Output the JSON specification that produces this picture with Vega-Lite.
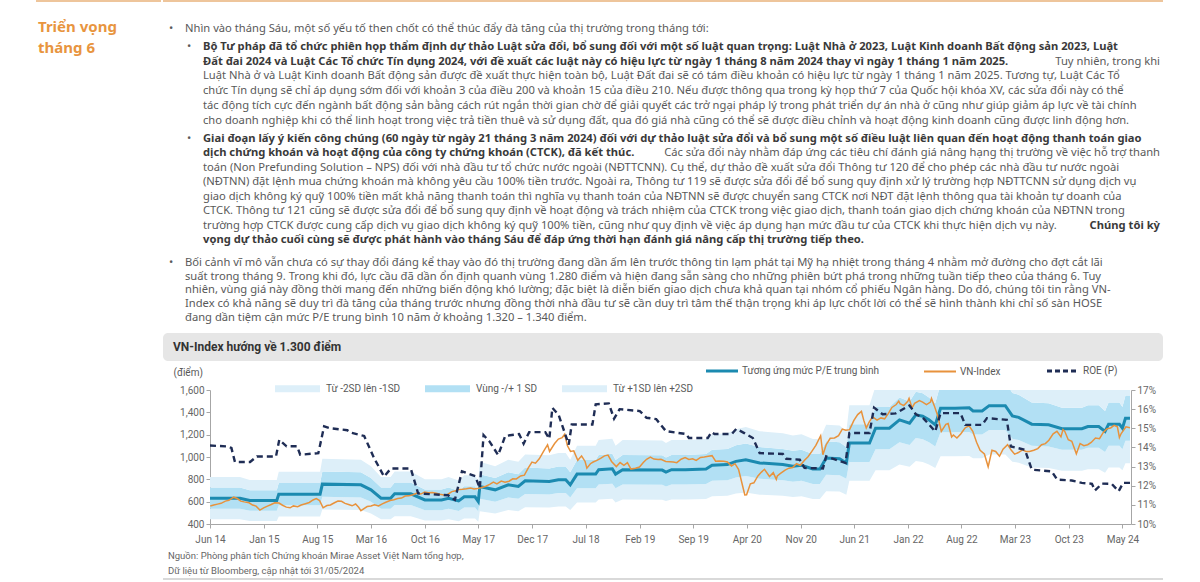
{
"$schema": "https://vega.github.io/schema/vega-lite/v6.json",
"background": "white",
"padding": {"left": 35, "top": 0, "right": 0, "bottom": 0},
"spacing": 0,
"resolve": {"legend": {"fill": "independent", "stroke": "independent"}},
"config": {
  "view": {"stroke": null},
  "concat": {"spacing": 0},
  "axis": {"labelFont": "Roboto", "labelFontSize": 10, "labelColor": "#666666", "tickColor": "#A6A6A6", "domainColor": "#A6A6A6", "tickSize": 4, "grid": false, "labelOverlap": false},
  "legend": {"labelFont": "Roboto", "labelFontSize": 10, "labelColor": "#595959", "labelOffset": 6, "padding": 0, "labelLimit": 220}
},
"datasets": {
  "heading": [{"line": 0, "text": "Triển vọng"}, {"line": 1, "text": "tháng 6"}],
  "text": [
    {"para": 0, "line": 0, "level": 1, "role": "bullet", "weight": "normal", "text": "•"},
    {"para": 0, "line": 0, "level": 1, "role": "start", "weight": "normal", "text": "Nhìn vào tháng Sáu, một số yếu tố then chốt có thể thúc đẩy đà tăng của thị trường trong tháng tới:"},
    {"para": 1, "line": 0, "level": 2, "role": "bullet", "weight": "normal", "text": "•"},
    {"para": 1, "line": 0, "level": 2, "role": "start", "weight": "bold", "text": "Bộ Tư pháp đã tổ chức phiên họp thẩm định dự thảo Luật sửa đổi, bổ sung đối với một số luật quan trọng: Luật Nhà ở 2023, Luật Kinh doanh Bất động sản 2023, Luật"},
    {"para": 1, "line": 1, "level": 2, "role": "start", "weight": "bold", "text": "Đất đai 2024 và Luật Các Tổ chức Tín dụng 2024, với đề xuất các luật này có hiệu lực từ ngày 1 tháng 8 năm 2024 thay vì ngày 1 tháng 1 năm 2025."},
    {"para": 1, "line": 1, "level": 2, "role": "end", "weight": "normal", "text": "Tuy nhiên, trong khi"},
    {"para": 1, "line": 2, "level": 2, "role": "start", "weight": "normal", "text": "Luật Nhà ở và Luật Kinh doanh Bất động sản được đề xuất thực hiện toàn bộ, Luật Đất đai sẽ có tám điều khoản có hiệu lực từ ngày 1 tháng 1 năm 2025. Tương tự, Luật Các Tổ"},
    {"para": 1, "line": 3, "level": 2, "role": "start", "weight": "normal", "text": "chức Tín dụng sẽ chỉ áp dụng sớm đối với khoản 3 của điều 200 và khoản 15 của điều 210. Nếu được thông qua trong kỳ họp thứ 7 của Quốc hội khóa XV, các sửa đổi này có thể"},
    {"para": 1, "line": 4, "level": 2, "role": "start", "weight": "normal", "text": "tác động tích cực đến ngành bất động sản bằng cách rút ngắn thời gian chờ để giải quyết các trở ngại pháp lý trong phát triển dự án nhà ở cũng như giúp giảm áp lực về tài chính"},
    {"para": 1, "line": 5, "level": 2, "role": "start", "weight": "normal", "text": "cho doanh nghiệp khi có thể linh hoạt trong việc trả tiền thuê và sử dụng đất, qua đó giá nhà cũng có thể sẽ được điều chỉnh và hoạt động kinh doanh cũng được linh động hơn."},
    {"para": 2, "line": 0, "level": 2, "role": "bullet", "weight": "normal", "text": "•"},
    {"para": 2, "line": 0, "level": 2, "role": "start", "weight": "bold", "text": "Giai đoạn lấy ý kiến công chúng (60 ngày từ ngày 21 tháng 3 năm 2024) đối với dự thảo luật sửa đổi và bổ sung một số điều luật liên quan đến hoạt động thanh toán giao"},
    {"para": 2, "line": 1, "level": 2, "role": "start", "weight": "bold", "text": "dịch chứng khoán và hoạt động của công ty chứng khoán (CTCK), đã kết thúc."},
    {"para": 2, "line": 1, "level": 2, "role": "end", "weight": "normal", "text": "Các sửa đổi này nhằm đáp ứng các tiêu chí đánh giá nâng hạng thị trường về việc hỗ trợ thanh"},
    {"para": 2, "line": 2, "level": 2, "role": "start", "weight": "normal", "text": "toán (Non Prefunding Solution – NPS) đối với nhà đầu tư tổ chức nước ngoài (NĐTTCNN). Cụ thể, dự thảo đề xuất sửa đổi Thông tư 120 để cho phép các nhà đầu tư nước ngoài"},
    {"para": 2, "line": 3, "level": 2, "role": "start", "weight": "normal", "text": "(NĐTNN) đặt lệnh mua chứng khoán mà không yêu cầu 100% tiền trước. Ngoài ra, Thông tư 119 sẽ được sửa đổi để bổ sung quy định xử lý trường hợp NĐTTCNN sử dụng dịch vụ"},
    {"para": 2, "line": 4, "level": 2, "role": "start", "weight": "normal", "text": "giao dịch không ký quỹ 100% tiền mất khả năng thanh toán thì nghĩa vụ thanh toán của NĐTNN sẽ được chuyển sang CTCK nơi NĐT đặt lệnh thông qua tài khoản tự doanh của"},
    {"para": 2, "line": 5, "level": 2, "role": "start", "weight": "normal", "text": "CTCK. Thông tư 121 cũng sẽ được sửa đổi để bổ sung quy định về hoạt động và trách nhiệm của CTCK trong việc giao dịch, thanh toán giao dịch chứng khoán của NĐTNN trong"},
    {"para": 2, "line": 6, "level": 2, "role": "start", "weight": "normal", "text": "trường hợp CTCK được cung cấp dịch vụ giao dịch không ký quỹ 100% tiền, cũng như quy định về việc áp dụng hạn mức đầu tư của CTCK khi thực hiện dịch vụ này."},
    {"para": 2, "line": 6, "level": 2, "role": "end", "weight": "bold", "text": "Chúng tôi kỳ"},
    {"para": 2, "line": 7, "level": 2, "role": "start", "weight": "bold", "text": "vọng dự thảo cuối cùng sẽ được phát hành vào tháng Sáu để đáp ứng thời hạn đánh giá nâng cấp thị trường tiếp theo."},
    {"para": 3, "line": 0, "level": 1, "role": "bullet", "weight": "normal", "text": "•"},
    {"para": 3, "line": 0, "level": 1, "role": "start", "weight": "normal", "text": "Bối cảnh vĩ mô vẫn chưa có sự thay đổi đáng kể thay vào đó thị trường đang dần ấm lên trước thông tin lạm phát tại Mỹ hạ nhiệt trong tháng 4 nhằm mở đường cho đợt cắt lãi"},
    {"para": 3, "line": 1, "level": 1, "role": "start", "weight": "normal", "text": "suất trong tháng 9. Trong khi đó, lực cầu đã dần ổn định quanh vùng 1.280 điểm và hiện đang sẵn sàng cho những phiên bứt phá trong những tuần tiếp theo của tháng 6. Tuy"},
    {"para": 3, "line": 2, "level": 1, "role": "start", "weight": "normal", "text": "nhiên, vùng giá này đồng thời mang đến những biến động khó lường; đặc biệt là diễn biến giao dịch chưa khả quan tại nhóm cổ phiếu Ngân hàng. Do đó, chúng tôi tin rằng VN-"},
    {"para": 3, "line": 3, "level": 1, "role": "start", "weight": "normal", "text": "Index có khả năng sẽ duy trì đà tăng của tháng trước nhưng đồng thời nhà đầu tư sẽ cần duy trì tâm thế thận trọng khi áp lực chốt lời có thể sẽ hình thành khi chỉ số sàn HOSE"},
    {"para": 3, "line": 4, "level": 1, "role": "start", "weight": "normal", "text": "đang dần tiệm cận mức P/E trung bình 10 năm ở khoảng 1.320 – 1.340 điểm."}
  ],
  "footer": [
    {"line": 0, "text": "Nguồn: Phòng phân tích Chứng khoán Mirae Asset Việt Nam tổng hợp,"},
    {"line": 1, "text": "Dữ liệu từ Bloomberg, cập nhật tới 31/05/2024"}
  ],
  "pe": [
    {"d":"2014-06-01","mean":631,"lo2":442,"lo1":536,"hi1":726,"hi2":820},
    {"d":"2014-09-28","mean":631,"lo2":442,"lo1":536,"hi1":726,"hi2":820},
    {"d":"2014-11-06","mean":610,"lo2":427,"lo1":519,"hi1":702,"hi2":793},
    {"d":"2015-02-21","mean":610,"lo2":427,"lo1":519,"hi1":702,"hi2":793},
    {"d":"2015-03-01","mean":667,"lo2":467,"lo1":567,"hi1":767,"hi2":867},
    {"d":"2015-08-12","mean":667,"lo2":467,"lo1":567,"hi1":767,"hi2":867},
    {"d":"2015-08-21","mean":757,"lo2":530,"lo1":643,"hi1":871,"hi2":984},
    {"d":"2016-01-21","mean":751,"lo2":526,"lo1":638,"hi1":864,"hi2":976},
    {"d":"2016-03-01","mean":706,"lo2":494,"lo1":600,"hi1":812,"hi2":918},
    {"d":"2016-04-10","mean":631,"lo2":442,"lo1":536,"hi1":726,"hi2":820},
    {"d":"2016-05-18","mean":631,"lo2":442,"lo1":536,"hi1":726,"hi2":820},
    {"d":"2016-06-03","mean":670,"lo2":469,"lo1":570,"hi1":771,"hi2":871},
    {"d":"2016-08-06","mean":670,"lo2":469,"lo1":570,"hi1":771,"hi2":871},
    {"d":"2016-10-01","mean":616,"lo2":431,"lo1":524,"hi1":708,"hi2":801},
    {"d":"2016-12-06","mean":616,"lo2":431,"lo1":524,"hi1":708,"hi2":801},
    {"d":"2017-01-03","mean":631,"lo2":442,"lo1":536,"hi1":726,"hi2":820},
    {"d":"2017-02-12","mean":607,"lo2":425,"lo1":516,"hi1":698,"hi2":789},
    {"d":"2017-03-06","mean":643,"lo2":450,"lo1":547,"hi1":739,"hi2":836},
    {"d":"2017-04-18","mean":643,"lo2":450,"lo1":547,"hi1":739,"hi2":836},
    {"d":"2017-05-01","mean":601,"lo2":421,"lo1":511,"hi1":691,"hi2":781},
    {"d":"2017-05-07","mean":736,"lo2":515,"lo1":626,"hi1":846,"hi2":957},
    {"d":"2017-07-07","mean":706,"lo2":494,"lo1":600,"hi1":812,"hi2":918},
    {"d":"2017-08-28","mean":751,"lo2":526,"lo1":638,"hi1":864,"hi2":976},
    {"d":"2017-10-07","mean":736,"lo2":515,"lo1":626,"hi1":846,"hi2":957},
    {"d":"2017-11-03","mean":787,"lo2":551,"lo1":669,"hi1":905,"hi2":1023},
    {"d":"2018-02-07","mean":781,"lo2":547,"lo1":664,"hi1":898,"hi2":1015},
    {"d":"2018-03-15","mean":796,"lo2":557,"lo1":677,"hi1":915,"hi2":1035},
    {"d":"2018-04-13","mean":796,"lo2":557,"lo1":677,"hi1":915,"hi2":1035},
    {"d":"2018-05-01","mean":751,"lo2":526,"lo1":638,"hi1":864,"hi2":976},
    {"d":"2018-05-28","mean":847,"lo2":593,"lo1":720,"hi1":974,"hi2":1101},
    {"d":"2018-08-10","mean":847,"lo2":593,"lo1":720,"hi1":974,"hi2":1101},
    {"d":"2018-08-22","mean":886,"lo2":620,"lo1":753,"hi1":1019,"hi2":1152},
    {"d":"2018-10-15","mean":895,"lo2":627,"lo1":761,"hi1":1029,"hi2":1164},
    {"d":"2018-10-28","mean":847,"lo2":593,"lo1":720,"hi1":974,"hi2":1101},
    {"d":"2018-11-25","mean":886,"lo2":620,"lo1":753,"hi1":1019,"hi2":1152},
    {"d":"2019-05-01","mean":883,"lo2":618,"lo1":751,"hi1":1015,"hi2":1148},
    {"d":"2019-05-16","mean":865,"lo2":606,"lo1":735,"hi1":995,"hi2":1125},
    {"d":"2019-06-07","mean":886,"lo2":620,"lo1":753,"hi1":1019,"hi2":1152},
    {"d":"2019-08-01","mean":886,"lo2":620,"lo1":753,"hi1":1019,"hi2":1152},
    {"d":"2019-10-22","mean":893,"lo2":625,"lo1":759,"hi1":1027,"hi2":1161},
    {"d":"2019-11-15","mean":926,"lo2":648,"lo1":787,"hi1":1065,"hi2":1204},
    {"d":"2020-01-15","mean":932,"lo2":652,"lo1":792,"hi1":1072,"hi2":1212},
    {"d":"2020-02-18","mean":961,"lo2":673,"lo1":817,"hi1":1105,"hi2":1249},
    {"d":"2020-03-28","mean":976,"lo2":683,"lo1":830,"hi1":1122,"hi2":1269},
    {"d":"2020-05-22","mean":947,"lo2":663,"lo1":805,"hi1":1089,"hi2":1231},
    {"d":"2020-08-22","mean":932,"lo2":652,"lo1":792,"hi1":1072,"hi2":1212},
    {"d":"2020-10-01","mean":917,"lo2":642,"lo1":779,"hi1":1055,"hi2":1192},
    {"d":"2020-11-04","mean":926,"lo2":648,"lo1":787,"hi1":1065,"hi2":1204},
    {"d":"2020-12-19","mean":893,"lo2":625,"lo1":759,"hi1":1027,"hi2":1161},
    {"d":"2021-01-16","mean":893,"lo2":625,"lo1":759,"hi1":1027,"hi2":1161},
    {"d":"2021-02-10","mean":991,"lo2":694,"lo1":842,"hi1":1140,"hi2":1288},
    {"d":"2021-04-04","mean":985,"lo2":690,"lo1":837,"hi1":1133,"hi2":1281},
    {"d":"2021-05-01","mean":947,"lo2":663,"lo1":805,"hi1":1089,"hi2":1231},
    {"d":"2021-05-13","mean":1125,"lo2":788,"lo1":956,"hi1":1294,"hi2":1463},
    {"d":"2021-08-01","mean":1125,"lo2":788,"lo1":956,"hi1":1294,"hi2":1463},
    {"d":"2021-08-25","mean":1258,"lo2":881,"lo1":1069,"hi1":1447,"hi2":1635},
    {"d":"2021-10-19","mean":1258,"lo2":881,"lo1":1069,"hi1":1447,"hi2":1635},
    {"d":"2021-11-28","mean":1333,"lo2":933,"lo1":1133,"hi1":1533,"hi2":1733},
    {"d":"2022-01-07","mean":1303,"lo2":912,"lo1":1108,"hi1":1498,"hi2":1694},
    {"d":"2022-02-01","mean":1377,"lo2":964,"lo1":1170,"hi1":1584,"hi2":1790},
    {"d":"2022-02-28","mean":1365,"lo2":956,"lo1":1160,"hi1":1570,"hi2":1775},
    {"d":"2022-03-25","mean":1333,"lo2":933,"lo1":1133,"hi1":1533,"hi2":1733},
    {"d":"2022-04-19","mean":1288,"lo2":902,"lo1":1095,"hi1":1481,"hi2":1674},
    {"d":"2022-05-10","mean":1437,"lo2":1006,"lo1":1221,"hi1":1653,"hi2":1868},
    {"d":"2022-07-07","mean":1437,"lo2":1006,"lo1":1221,"hi1":1653,"hi2":1868},
    {"d":"2022-09-01","mean":1440,"lo2":1008,"lo1":1224,"hi1":1656,"hi2":1872},
    {"d":"2022-09-16","mean":1413,"lo2":989,"lo1":1201,"hi1":1625,"hi2":1837},
    {"d":"2022-10-22","mean":1413,"lo2":989,"lo1":1201,"hi1":1625,"hi2":1837},
    {"d":"2022-11-19","mean":1460,"lo2":1022,"lo1":1241,"hi1":1679,"hi2":1898},
    {"d":"2023-01-22","mean":1460,"lo2":1022,"lo1":1241,"hi1":1679,"hi2":1898},
    {"d":"2023-02-19","mean":1368,"lo2":958,"lo1":1163,"hi1":1573,"hi2":1778},
    {"d":"2023-03-16","mean":1355,"lo2":949,"lo1":1152,"hi1":1558,"hi2":1762},
    {"d":"2023-05-07","mean":1294,"lo2":906,"lo1":1100,"hi1":1488,"hi2":1682},
    {"d":"2023-07-13","mean":1288,"lo2":902,"lo1":1095,"hi1":1481,"hi2":1674},
    {"d":"2023-09-04","mean":1253,"lo2":877,"lo1":1065,"hi1":1441,"hi2":1629},
    {"d":"2023-11-22","mean":1253,"lo2":877,"lo1":1065,"hi1":1441,"hi2":1629},
    {"d":"2023-12-16","mean":1273,"lo2":891,"lo1":1082,"hi1":1464,"hi2":1655},
    {"d":"2024-01-28","mean":1273,"lo2":891,"lo1":1082,"hi1":1464,"hi2":1655},
    {"d":"2024-02-22","mean":1229,"lo2":860,"lo1":1045,"hi1":1413,"hi2":1598},
    {"d":"2024-03-07","mean":1294,"lo2":906,"lo1":1100,"hi1":1488,"hi2":1682},
    {"d":"2024-04-19","mean":1294,"lo2":906,"lo1":1100,"hi1":1488,"hi2":1682},
    {"d":"2024-05-01","mean":1258,"lo2":881,"lo1":1069,"hi1":1447,"hi2":1635},
    {"d":"2024-05-13","mean":1348,"lo2":944,"lo1":1146,"hi1":1550,"hi2":1752},
    {"d":"2024-05-31","mean":1348,"lo2":944,"lo1":1146,"hi1":1550,"hi2":1752}
  ],
  "vni": [
    {"d":"2014-06-02","v":562},{"d":"2014-06-16","v":570},{"d":"2014-07-01","v":578},{"d":"2014-07-15","v":585},{"d":"2014-08-01","v":605},{"d":"2014-08-15","v":612},{"d":"2014-09-03","v":640},{"d":"2014-09-17","v":628},{"d":"2014-10-01","v":605},{"d":"2014-10-15","v":598},{"d":"2014-11-03","v":590},{"d":"2014-11-17","v":570},{"d":"2014-12-01","v":560},{"d":"2014-12-16","v":525},{"d":"2014-12-31","v":545},
    {"d":"2015-01-15","v":560},{"d":"2015-01-30","v":575},{"d":"2015-02-13","v":590},{"d":"2015-03-02","v":588},{"d":"2015-03-16","v":568},{"d":"2015-03-31","v":551},{"d":"2015-04-15","v":545},{"d":"2015-04-28","v":562},{"d":"2015-05-15","v":555},{"d":"2015-05-29","v":570},{"d":"2015-06-15","v":582},{"d":"2015-06-30","v":593},{"d":"2015-07-15","v":615},{"d":"2015-07-28","v":628},{"d":"2015-08-10","v":610},{"d":"2015-08-24","v":545},{"d":"2015-09-08","v":565},{"d":"2015-09-22","v":570},{"d":"2015-10-08","v":590},{"d":"2015-10-22","v":605},{"d":"2015-11-05","v":603},{"d":"2015-11-19","v":585},{"d":"2015-12-03","v":575},{"d":"2015-12-17","v":563},{"d":"2015-12-31","v":579},
    {"d":"2016-01-12","v":550},{"d":"2016-01-21","v":520},{"d":"2016-02-15","v":556},{"d":"2016-03-01","v":562},{"d":"2016-03-15","v":572},{"d":"2016-03-31","v":561},{"d":"2016-04-15","v":580},{"d":"2016-04-29","v":595},{"d":"2016-05-16","v":610},{"d":"2016-05-31","v":618},{"d":"2016-06-15","v":628},{"d":"2016-06-30","v":632},{"d":"2016-07-15","v":650},{"d":"2016-07-29","v":652},{"d":"2016-08-15","v":662},{"d":"2016-08-31","v":677},{"d":"2016-09-15","v":668},{"d":"2016-09-30","v":686},{"d":"2016-10-14","v":680},{"d":"2016-10-31","v":682},{"d":"2016-11-15","v":675},{"d":"2016-11-30","v":667},{"d":"2016-12-15","v":660},{"d":"2016-12-30","v":665},
    {"d":"2017-01-16","v":690},{"d":"2017-01-27","v":695},{"d":"2017-02-15","v":710},{"d":"2017-02-28","v":711},{"d":"2017-03-15","v":715},{"d":"2017-03-31","v":722},{"d":"2017-04-14","v":713},{"d":"2017-04-28","v":717},{"d":"2017-05-15","v":727},{"d":"2017-05-31","v":738},{"d":"2017-06-15","v":755},{"d":"2017-06-30","v":776},{"d":"2017-07-14","v":760},{"d":"2017-07-31","v":784},{"d":"2017-08-15","v":775},{"d":"2017-08-31","v":783},{"d":"2017-09-15","v":805},{"d":"2017-09-29","v":804},{"d":"2017-10-16","v":830},{"d":"2017-10-31","v":837},{"d":"2017-11-15","v":900},{"d":"2017-11-30","v":955},{"d":"2017-12-14","v":945},{"d":"2017-12-29","v":984},
    {"d":"2018-01-15","v":1050},{"d":"2018-01-31","v":1110},{"d":"2018-02-08","v":1050},{"d":"2018-02-28","v":1121},{"d":"2018-03-15","v":1160},{"d":"2018-03-30","v":1174},{"d":"2018-04-09","v":1204},{"d":"2018-04-20","v":1100},{"d":"2018-05-02","v":1050},{"d":"2018-05-15","v":1055},{"d":"2018-05-31","v":971},{"d":"2018-06-15","v":1010},{"d":"2018-06-29","v":960},{"d":"2018-07-06","v":900},{"d":"2018-07-20","v":940},{"d":"2018-07-31","v":955},{"d":"2018-08-15","v":970},{"d":"2018-08-31","v":989},{"d":"2018-09-14","v":1010},{"d":"2018-09-28","v":1017},{"d":"2018-10-12","v":960},{"d":"2018-10-31","v":914},{"d":"2018-11-15","v":950},{"d":"2018-11-30","v":926},{"d":"2018-12-14","v":950},{"d":"2018-12-28","v":892},
    {"d":"2019-01-15","v":900},{"d":"2019-01-31","v":910},{"d":"2019-02-15","v":950},{"d":"2019-02-28","v":980},{"d":"2019-03-15","v":1000},{"d":"2019-03-29","v":981},{"d":"2019-04-15","v":978},{"d":"2019-04-26","v":980},{"d":"2019-05-15","v":960},{"d":"2019-05-31","v":957},{"d":"2019-06-14","v":955},{"d":"2019-06-28","v":949},{"d":"2019-07-15","v":980},{"d":"2019-07-31","v":994},{"d":"2019-08-15","v":978},{"d":"2019-08-30","v":984},{"d":"2019-09-13","v":970},{"d":"2019-09-30","v":996},{"d":"2019-10-15","v":1000},{"d":"2019-10-31","v":1006},{"d":"2019-11-15","v":1012},{"d":"2019-11-29","v":962},{"d":"2019-12-13","v":965},{"d":"2019-12-31","v":961},
    {"d":"2020-01-15","v":955},{"d":"2020-01-31","v":920},{"d":"2020-02-14","v":940},{"d":"2020-02-28","v":889},{"d":"2020-03-10","v":790},{"d":"2020-03-24","v":660},{"d":"2020-03-31","v":662},{"d":"2020-04-15","v":760},{"d":"2020-04-29","v":769},{"d":"2020-05-15","v":830},{"d":"2020-05-29","v":865},{"d":"2020-06-10","v":890},{"d":"2020-06-30","v":825},{"d":"2020-07-15","v":860},{"d":"2020-07-27","v":800},{"d":"2020-07-31","v":831},{"d":"2020-08-14","v":855},{"d":"2020-08-31","v":883},{"d":"2020-09-15","v":900},{"d":"2020-09-30","v":906},{"d":"2020-10-15","v":940},{"d":"2020-10-30","v":926},{"d":"2020-11-16","v":970},{"d":"2020-11-30","v":1003},{"d":"2020-12-15","v":1050},{"d":"2020-12-31","v":1104},
    {"d":"2021-01-19","v":1190},{"d":"2021-01-28","v":1020},{"d":"2021-02-10","v":1110},{"d":"2021-02-26","v":1168},{"d":"2021-03-15","v":1170},{"d":"2021-03-31","v":1191},{"d":"2021-04-15","v":1250},{"d":"2021-04-29","v":1239},{"d":"2021-05-14","v":1245},{"d":"2021-05-31","v":1328},{"d":"2021-06-15","v":1380},{"d":"2021-06-30","v":1408},{"d":"2021-07-09","v":1330},{"d":"2021-07-19","v":1260},{"d":"2021-07-30","v":1310},{"d":"2021-08-13","v":1360},{"d":"2021-08-31","v":1331},{"d":"2021-09-15","v":1350},{"d":"2021-09-30","v":1342},{"d":"2021-10-15","v":1390},{"d":"2021-10-29","v":1444},{"d":"2021-11-15","v":1470},{"d":"2021-11-25","v":1500},{"d":"2021-11-30","v":1478},{"d":"2021-12-15","v":1460},{"d":"2021-12-31","v":1498},
    {"d":"2022-01-05","v":1525},{"d":"2022-01-17","v":1440},{"d":"2022-01-27","v":1480},{"d":"2022-02-15","v":1505},{"d":"2022-02-28","v":1492},{"d":"2022-03-15","v":1470},{"d":"2022-03-31","v":1492},{"d":"2022-04-04","v":1525},{"d":"2022-04-15","v":1460},{"d":"2022-04-29","v":1367},{"d":"2022-05-13","v":1230},{"d":"2022-05-31","v":1293},{"d":"2022-06-09","v":1300},{"d":"2022-06-23","v":1180},{"d":"2022-06-30","v":1197},{"d":"2022-07-14","v":1170},{"d":"2022-07-29","v":1206},{"d":"2022-08-15","v":1260},{"d":"2022-08-31","v":1280},{"d":"2022-09-15","v":1230},{"d":"2022-09-30","v":1132},{"d":"2022-10-14","v":1060},{"d":"2022-10-31","v":1027},{"d":"2022-11-15","v":912},{"d":"2022-11-30","v":1060},{"d":"2022-12-15","v":1050},{"d":"2022-12-30","v":1007},
    {"d":"2023-01-13","v":1070},{"d":"2023-01-31","v":1111},{"d":"2023-02-15","v":1060},{"d":"2023-02-28","v":1025},{"d":"2023-03-15","v":1040},{"d":"2023-03-31","v":1064},{"d":"2023-04-14","v":1050},{"d":"2023-04-28","v":1049},{"d":"2023-05-15","v":1060},{"d":"2023-05-31","v":1075},{"d":"2023-06-15","v":1110},{"d":"2023-06-30","v":1120},{"d":"2023-07-14","v":1150},{"d":"2023-07-31","v":1207},{"d":"2023-08-15","v":1230},{"d":"2023-08-31","v":1180},{"d":"2023-09-08","v":1245},{"d":"2023-09-15","v":1230},{"d":"2023-09-29","v":1154},{"d":"2023-10-13","v":1140},{"d":"2023-10-31","v":1028},{"d":"2023-11-15","v":1120},{"d":"2023-11-30","v":1102},{"d":"2023-12-15","v":1110},{"d":"2023-12-29","v":1130},
    {"d":"2024-01-15","v":1170},{"d":"2024-01-31","v":1164},{"d":"2024-02-15","v":1220},{"d":"2024-02-29","v":1252},{"d":"2024-03-15","v":1260},{"d":"2024-03-29","v":1284},{"d":"2024-04-11","v":1270},{"d":"2024-04-19","v":1175},{"d":"2024-04-26","v":1210},{"d":"2024-05-15","v":1270},{"d":"2024-05-31","v":1262}
  ],
  "roe": [
    {"d":"2014-06-01","r":0.141},{"d":"2014-08-10","r":0.1405},{"d":"2014-08-25","r":0.1397},{"d":"2014-09-08","r":0.1324},{"d":"2014-11-07","r":0.1324},{"d":"2014-12-04","r":0.1353},{"d":"2015-02-18","r":0.1353},{"d":"2015-03-03","r":0.144},{"d":"2015-04-01","r":0.1406},{"d":"2015-05-13","r":0.1406},{"d":"2015-05-25","r":0.1362},{"d":"2015-08-05","r":0.137},{"d":"2015-08-28","r":0.151},{"d":"2015-09-22","r":0.150},{"d":"2015-11-28","r":0.149},{"d":"2015-12-15","r":0.1476},{"d":"2016-02-03","r":0.146},{"d":"2016-03-13","r":0.1345},{"d":"2016-04-22","r":0.1248},{"d":"2016-05-19","r":0.129},{"d":"2016-08-06","r":0.129},{"d":"2016-09-04","r":0.116},{"d":"2017-01-01","r":0.115},{"d":"2017-01-28","r":0.1126},{"d":"2017-02-25","r":0.1275},{"d":"2017-04-19","r":0.125},{"d":"2017-05-07","r":0.1187},{"d":"2017-05-22","r":0.1464},{"d":"2017-06-15","r":0.143},{"d":"2017-07-19","r":0.136},{"d":"2017-08-16","r":0.146},{"d":"2017-10-10","r":0.147},{"d":"2017-10-28","r":0.142},{"d":"2017-11-19","r":0.148},{"d":"2018-01-22","r":0.148},{"d":"2018-02-07","r":0.1445},{"d":"2018-02-19","r":0.1607},{"d":"2018-03-16","r":0.157},{"d":"2018-04-25","r":0.1415},{"d":"2018-05-07","r":0.152},{"d":"2018-07-28","r":0.152},{"d":"2018-08-10","r":0.1625},{"d":"2018-10-01","r":0.163},{"d":"2018-10-22","r":0.155},{"d":"2018-11-13","r":0.16},{"d":"2019-02-01","r":0.159},{"d":"2019-02-28","r":0.1555},{"d":"2019-04-07","r":0.1548},{"d":"2019-05-16","r":0.1485},{"d":"2019-08-04","r":0.147},{"d":"2019-08-15","r":0.1449},{"d":"2019-10-29","r":0.1449},{"d":"2019-11-13","r":0.148},{"d":"2019-11-25","r":0.147},{"d":"2020-02-01","r":0.147},{"d":"2020-02-19","r":0.1497},{"d":"2020-03-22","r":0.1475},{"d":"2020-04-25","r":0.1449},{"d":"2020-05-22","r":0.137},{"d":"2020-08-22","r":0.1366},{"d":"2020-09-04","r":0.1341},{"d":"2020-10-28","r":0.1336},{"d":"2020-11-16","r":0.1293},{"d":"2021-01-28","r":0.129},{"d":"2021-02-10","r":0.1353},{"d":"2021-03-19","r":0.1336},{"d":"2021-04-28","r":0.1319},{"d":"2021-05-13","r":0.1475},{"d":"2021-08-01","r":0.1475},{"d":"2021-08-19","r":0.1608},{"d":"2021-09-22","r":0.1573},{"d":"2021-11-13","r":0.1578},{"d":"2022-01-07","r":0.1619},{"d":"2022-02-01","r":0.1573},{"d":"2022-02-28","r":0.1556},{"d":"2022-03-25","r":0.152},{"d":"2022-04-19","r":0.1483},{"d":"2022-05-10","r":0.1579},{"d":"2022-07-28","r":0.1579},{"d":"2022-08-16","r":0.1518},{"d":"2022-10-22","r":0.1518},{"d":"2022-11-10","r":0.1553},{"d":"2023-01-28","r":0.1544},{"d":"2023-02-13","r":0.1405},{"d":"2023-04-10","r":0.1388},{"d":"2023-05-07","r":0.1284},{"d":"2023-07-25","r":0.1275},{"d":"2023-08-16","r":0.1232},{"d":"2023-10-13","r":0.1227},{"d":"2023-11-22","r":0.1215},{"d":"2024-01-01","r":0.121},{"d":"2024-01-13","r":0.1175},{"d":"2024-02-10","r":0.1211},{"d":"2024-03-19","r":0.121},{"d":"2024-04-16","r":0.1171},{"d":"2024-05-04","r":0.1215},{"d":"2024-05-31","r":0.1215}
  ]
},
"hconcat": [
  {
    "width": 125, "height": 60,
    "layer": [
      {"data": {"values": [{}]}, "mark": {"type": "rule", "color": "#E8B27A", "strokeWidth": 1.5},
       "encoding": {"y": {"datum": -1.24, "type": "quantitative", "scale": {"domain": [-1.2857, 1.5714], "reverse": true}, "axis": null}}},
      {"data": {"name": "heading"}, "mark": {"type": "text", "align": "left", "baseline": "middle", "font": "Noto Sans", "fontSize": 15, "fontWeight": "bold", "color": "#E8953F"},
       "encoding": {"x": {"datum": 0, "type": "quantitative", "scale": {"domain": [-2, 123]}, "axis": null},
                    "y": {"field": "line", "type": "quantitative", "scale": {"domain": [-1.2857, 1.5714], "reverse": true}, "axis": null},
                    "text": {"field": "text"}}}
    ]
  },
  {
    "spacing": 0,
    "resolve": {"legend": {"fill": "independent", "stroke": "independent"}},
    "vconcat": [
      {
        "width": 1000, "height": 37,
        "layer": [
          {"data": {"values": [{}]}, "mark": {"type": "rule", "color": "#E8B27A", "strokeWidth": 1.5},
           "encoding": {"y": {"datum": -1.918, "type": "quantitative", "scale": {"domain": [-1.986, 0.548], "reverse": true}, "axis": null}}},
          {
            "data": {"name": "text"},
            "transform": [{"filter": "datum.para == 0"}],
            "encoding": {
              "x": {"field": "level", "type": "quantitative", "scale": {"domain": [-0.2222, 55.3333], "nice": false, "zero": false}, "axis": null},
              "y": {"field": "line", "type": "quantitative", "scale": {"domain": [-1.986, 0.548], "reverse": true}, "axis": null},
              "text": {"field": "text"}
            },
            "layer": [
              {"transform": [{"filter": "datum.role == 'bullet'"}], "mark": {"type": "text", "align": "left", "baseline": "middle", "dx": -16, "font": "Noto Sans", "fontSize": 11.2, "color": "#595959"}},
              {"transform": [{"filter": "datum.role == 'start' && datum.weight == 'normal'"}], "mark": {"type": "text", "align": "left", "baseline": "middle", "font": "Noto Sans", "fontSize": 11.2, "color": "#595959"}}
            ]
          }
        ]
      },
      {
        "width": 1000, "height": 92,
        "data": {"name": "text"},
        "transform": [{"filter": "datum.para == 1"}],
        "encoding": {
          "x": {"field": "level", "type": "quantitative", "scale": {"domain": [-0.2222, 55.3333], "nice": false, "zero": false}, "axis": null},
          "y": {"field": "line", "type": "quantitative", "scale": {"domain": [-0.6528, 5.5383], "reverse": true}, "axis": null},
          "text": {"field": "text"}
        },
        "layer": [
          {"transform": [{"filter": "datum.role == 'bullet'"}], "mark": {"type": "text", "align": "left", "baseline": "middle", "dx": -16, "font": "Noto Sans", "fontSize": 11.2, "color": "#595959"}},
          {"transform": [{"filter": "datum.role == 'start' && datum.weight == 'normal'"}], "mark": {"type": "text", "align": "left", "baseline": "middle", "font": "Noto Sans", "fontSize": 11.2, "color": "#595959"}},
          {"transform": [{"filter": "datum.role == 'start' && datum.weight == 'bold'"}], "mark": {"type": "text", "align": "left", "baseline": "middle", "font": "Noto Sans", "fontSize": 11.2, "fontWeight": "bold", "color": "#3A3A3A"}},
          {"transform": [{"filter": "datum.role == 'end' && datum.weight == 'normal'"}], "mark": {"type": "text", "align": "right", "baseline": "middle", "font": "Noto Sans", "fontSize": 11.2, "color": "#595959"}, "encoding": {"x": {"datum": 55.1667, "type": "quantitative"}}}
        ]
      },
      {
        "width": 1000, "height": 118,
        "data": {"name": "text"},
        "transform": [{"filter": "datum.para == 2"}],
        "encoding": {
          "x": {"field": "level", "type": "quantitative", "scale": {"domain": [-0.2222, 55.3333], "nice": false, "zero": false}, "axis": null},
          "y": {"field": "line", "type": "quantitative", "scale": {"domain": [-0.693, 7.484], "reverse": true}, "axis": null},
          "text": {"field": "text"}
        },
        "layer": [
          {"transform": [{"filter": "datum.role == 'bullet'"}], "mark": {"type": "text", "align": "left", "baseline": "middle", "dx": -16, "font": "Noto Sans", "fontSize": 11.2, "color": "#595959"}},
          {"transform": [{"filter": "datum.role == 'start' && datum.weight == 'normal'"}], "mark": {"type": "text", "align": "left", "baseline": "middle", "font": "Noto Sans", "fontSize": 11.2, "color": "#595959"}},
          {"transform": [{"filter": "datum.role == 'start' && datum.weight == 'bold'"}], "mark": {"type": "text", "align": "left", "baseline": "middle", "font": "Noto Sans", "fontSize": 11.2, "fontWeight": "bold", "color": "#3A3A3A"}},
          {"transform": [{"filter": "datum.role == 'end' && datum.weight == 'normal'"}], "mark": {"type": "text", "align": "right", "baseline": "middle", "font": "Noto Sans", "fontSize": 11.2, "color": "#595959"}, "encoding": {"x": {"datum": 55.1667, "type": "quantitative"}}},
          {"transform": [{"filter": "datum.role == 'end' && datum.weight == 'bold'"}], "mark": {"type": "text", "align": "right", "baseline": "middle", "font": "Noto Sans", "fontSize": 11.2, "fontWeight": "bold", "color": "#3A3A3A"}, "encoding": {"x": {"datum": 55.1667, "type": "quantitative"}}}
        ]
      },
      {
        "width": 1000, "height": 86,
        "data": {"name": "text"},
        "transform": [{"filter": "datum.para == 3"}],
        "encoding": {
          "x": {"field": "level", "type": "quantitative", "scale": {"domain": [-0.2222, 55.3333], "nice": false, "zero": false}, "axis": null},
          "y": {"field": "line", "type": "quantitative", "scale": {"domain": [-1.1985, 5.125], "reverse": true}, "axis": null},
          "text": {"field": "text"}
        },
        "layer": [
          {"transform": [{"filter": "datum.role == 'bullet'"}], "mark": {"type": "text", "align": "left", "baseline": "middle", "dx": -16, "font": "Noto Sans", "fontSize": 11.2, "color": "#595959"}},
          {"transform": [{"filter": "datum.role == 'start' && datum.weight == 'normal'"}], "mark": {"type": "text", "align": "left", "baseline": "middle", "font": "Noto Sans", "fontSize": 11.2, "color": "#595959"}}
        ]
      },
      {
        "width": 1000, "height": 33,
        "layer": [
          {"data": {"values": [{}]}, "mark": {"type": "rect", "color": "#E6E6E6", "cornerRadius": 5},
           "encoding": {"x": {"datum": 0, "type": "quantitative", "scale": {"domain": [0, 1], "nice": false}, "axis": null}, "x2": {"datum": 1},
                        "y": {"datum": 5, "type": "quantitative", "scale": {"domain": [0, 33], "nice": false}, "axis": null}, "y2": {"datum": 33}}},
          {"data": {"values": [{"title": "VN-Index hướng về 1.300 điểm"}]}, "mark": {"type": "text", "align": "left", "baseline": "middle", "font": "Roboto", "fontSize": 12, "fontWeight": "bold", "color": "#333333"},
           "encoding": {"x": {"datum": 0.01, "type": "quantitative"}, "y": {"datum": 19, "type": "quantitative"}, "text": {"field": "title"}}}
        ]
      },
      {
        "resolve": {"legend": {"fill": "independent", "stroke": "independent"}},
        "hconcat": [
          {"width": 1, "height": 134, "data": {"values": []}, "mark": "text", "encoding": {}},
          {
            "width": 921, "height": 134,
            "encoding": {
              "x": {"field": "d", "type": "temporal",
                    "scale": {"type": "utc", "domain": [{"year": 2014, "month": 6, "date": 1, "utc": true}, {"year": 2024, "month": 6, "date": 4, "utc": true}]},
                    "axis": {"title": null, "format": "%b %y", "labelPadding": 6, "labelFlush": false,
                             "values": [{"year": 2014, "month": 6, "date": 1, "utc": true}, {"year": 2015, "month": 1, "date": 1, "utc": true}, {"year": 2015, "month": 8, "date": 1, "utc": true}, {"year": 2016, "month": 3, "date": 1, "utc": true}, {"year": 2016, "month": 10, "date": 1, "utc": true}, {"year": 2017, "month": 5, "date": 1, "utc": true}, {"year": 2017, "month": 12, "date": 1, "utc": true}, {"year": 2018, "month": 7, "date": 1, "utc": true}, {"year": 2019, "month": 2, "date": 1, "utc": true}, {"year": 2019, "month": 9, "date": 1, "utc": true}, {"year": 2020, "month": 4, "date": 1, "utc": true}, {"year": 2020, "month": 11, "date": 1, "utc": true}, {"year": 2021, "month": 6, "date": 1, "utc": true}, {"year": 2022, "month": 1, "date": 1, "utc": true}, {"year": 2022, "month": 8, "date": 1, "utc": true}, {"year": 2023, "month": 3, "date": 1, "utc": true}, {"year": 2023, "month": 10, "date": 1, "utc": true}, {"year": 2024, "month": 5, "date": 1, "utc": true}]}}
            },
            "layer": [
              {
                "layer": [
                  {"data": {"name": "pe"}, "mark": {"type": "area", "opacity": 1, "clip": true},
                   "encoding": {
                     "y": {"field": "lo2", "type": "quantitative", "scale": {"domain": [400, 1600], "nice": false},
                           "axis": {"title": "(điểm)", "values": [400, 600, 800, 1000, 1200, 1400, 1600], "format": ",.0f", "minExtent": 46, "maxExtent": 46, "labelOverlap": false,
                                    "titleAngle": 0, "titleX": -37, "titleY": -18, "titleAlign": "left", "titleBaseline": "middle",
                                    "titleFont": "Roboto", "titleFontSize": 10, "titleFontWeight": "normal", "titleColor": "#595959"}},
                     "y2": {"field": "lo1"},
                     "fill": {"datum": "Từ -2SD lên -1SD",
                              "scale": {"domain": ["Từ -2SD lên -1SD", "Vùng -/+ 1 SD", "Từ +1SD lên +2SD"], "range": ["#DDEFF9", "#B2E0F4", "#DDEFF9"]},
                              "legend": {"orient": "none", "legendX": 65, "legendY": -24, "direction": "horizontal", "title": null,
                                         "symbolType": "M-1,-0.16H1V0.16H-1Z", "symbolSize": 2025, "symbolStrokeWidth": 0, "symbolOpacity": 1, "columnPadding": 24}}}},
                  {"data": {"name": "pe"}, "mark": {"type": "area", "opacity": 1, "clip": true},
                   "encoding": {"y": {"field": "lo1", "type": "quantitative",
                                      "axis": {"title": "(điểm)", "values": [400, 600, 800, 1000, 1200, 1400, 1600], "format": ",.0f", "minExtent": 46, "maxExtent": 46, "labelOverlap": false,
                                               "titleAngle": 0, "titleX": -37, "titleY": -18, "titleAlign": "left", "titleBaseline": "middle",
                                               "titleFont": "Roboto", "titleFontSize": 10, "titleFontWeight": "normal", "titleColor": "#595959"}},
                                "y2": {"field": "hi1"}, "fill": {"datum": "Vùng -/+ 1 SD"}}},
                  {"data": {"name": "pe"}, "mark": {"type": "area", "opacity": 1, "clip": true},
                   "encoding": {"y": {"field": "hi1", "type": "quantitative",
                                      "axis": {"title": "(điểm)", "values": [400, 600, 800, 1000, 1200, 1400, 1600], "format": ",.0f", "minExtent": 46, "maxExtent": 46, "labelOverlap": false,
                                               "titleAngle": 0, "titleX": -37, "titleY": -18, "titleAlign": "left", "titleBaseline": "middle",
                                               "titleFont": "Roboto", "titleFontSize": 10, "titleFontWeight": "normal", "titleColor": "#595959"}},
                                "y2": {"field": "hi2"}, "fill": {"datum": "Từ +1SD lên +2SD"}}},
                  {"data": {"name": "pe"}, "mark": {"type": "line", "strokeWidth": 3, "clip": true},
                   "encoding": {"y": {"field": "mean", "type": "quantitative",
                                      "axis": {"title": "(điểm)", "values": [400, 600, 800, 1000, 1200, 1400, 1600], "format": ",.0f", "minExtent": 46, "maxExtent": 46, "labelOverlap": false,
                                               "titleAngle": 0, "titleX": -37, "titleY": -18, "titleAlign": "left", "titleBaseline": "middle",
                                               "titleFont": "Roboto", "titleFontSize": 10, "titleFontWeight": "normal", "titleColor": "#595959"}},
                                "stroke": {"datum": "Tương ứng mức P/E trung bình",
                                           "scale": {"domain": ["Tương ứng mức P/E trung bình", "VN-Index", "ROE (P)"], "range": ["#1B8AB0", "#E8923C", "#1F2D55"]},
                                           "legend": {"orient": "none", "legendX": 507, "legendY": -24, "direction": "horizontal", "title": null, "labelOffset": 15,
                                                      "symbolType": "stroke", "symbolSize": 1024, "symbolStrokeWidth": 3, "columnPadding": 40,
                                                      "encode": {"symbols": {"update": {"strokeDash": {"signal": "datum.value === 'ROE (P)' ? [5, 3] : [1, 0]"}, "strokeWidth": {"signal": "datum.value === 'VN-Index' ? 2 : 3"}}}}}}}},
                  {"data": {"name": "vni"}, "mark": {"type": "line", "strokeWidth": 1.5, "clip": true},
                   "encoding": {"y": {"field": "v", "type": "quantitative",
                                      "axis": {"title": "(điểm)", "values": [400, 600, 800, 1000, 1200, 1400, 1600], "format": ",.0f", "minExtent": 46, "maxExtent": 46, "labelOverlap": false,
                                               "titleAngle": 0, "titleX": -37, "titleY": -18, "titleAlign": "left", "titleBaseline": "middle",
                                               "titleFont": "Roboto", "titleFontSize": 10, "titleFontWeight": "normal", "titleColor": "#595959"}},
                                "stroke": {"datum": "VN-Index"}}}
                ]
              },
              {"data": {"name": "roe"}, "mark": {"type": "line", "strokeWidth": 2.4, "strokeDash": [6, 4], "clip": true},
               "encoding": {"y": {"field": "r", "type": "quantitative", "scale": {"domain": [0.10, 0.17], "nice": false, "zero": false},
                                  "axis": {"orient": "right", "title": null, "values": [0.10, 0.11, 0.12, 0.13, 0.14, 0.15, 0.16, 0.17], "format": ".0%"}},
                            "stroke": {"datum": "ROE (P)"}}}
            ],
            "resolve": {"scale": {"y": "independent"}}
          }
        ]
      },
      {
        "width": 1000, "height": 37,
        "layer": [
          {"data": {"name": "footer"}, "mark": {"type": "text", "align": "left", "baseline": "middle", "font": "Roboto", "fontSize": 9.5, "color": "#666666"},
           "encoding": {"x": {"datum": 0.005, "type": "quantitative", "scale": {"domain": [0, 1], "nice": false}, "axis": null},
                        "y": {"field": "line", "type": "quantitative", "scale": {"domain": [-0.8, 1.667], "reverse": true, "nice": false}, "axis": null},
                        "text": {"field": "text"}}},
          {"data": {"values": [{}]}, "mark": {"type": "rule", "color": "#D9D9D9", "strokeWidth": 2},
           "encoding": {"y": {"datum": 1.533, "type": "quantitative"}}}
        ]
      }
    ]
  }
]
}
